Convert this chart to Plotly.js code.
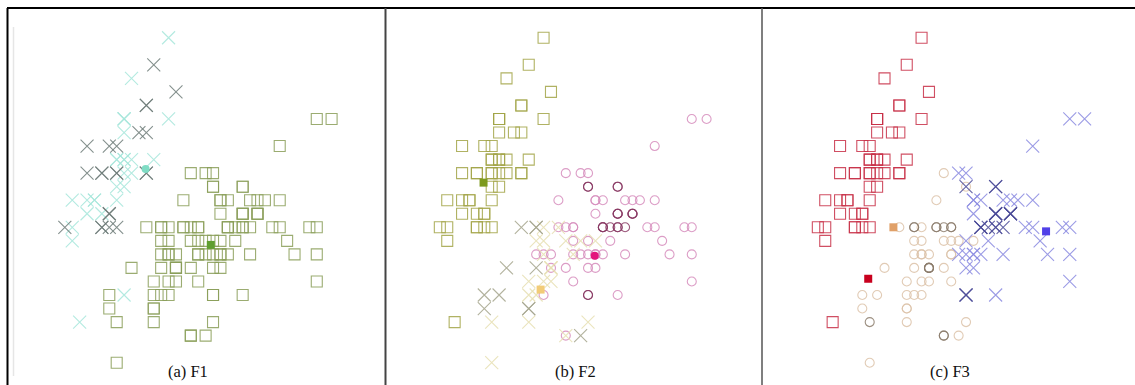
<!DOCTYPE html>
<html><head><meta charset="utf-8">
<script src="https://cdn.plot.ly/plotly-3.0.1.min.js"></script>
<style>html,body{margin:0;padding:0;background:#fff}#chart{width:1135px;height:385px}</style>
</head><body><div id="chart"></div>
<script>
const sepalLength = [
5.1,4.9,4.7,4.6,5.0,5.4,4.6,5.0,4.4,4.9, 5.4,4.8,4.8,4.3,5.8,5.7,5.4,5.1,5.7,5.1,
5.4,5.1,4.6,5.1,4.8,5.0,5.0,5.2,5.2,4.7, 4.8,5.4,5.2,5.5,4.9,5.0,5.5,4.9,4.4,5.1,
5.0,4.5,4.4,5.0,5.1,4.8,5.1,4.6,5.3,5.0, 7.0,6.4,6.9,5.5,6.5,5.7,6.3,4.9,6.6,5.2,
5.0,5.9,6.0,6.1,5.6,6.7,5.6,5.8,6.2,5.6, 5.9,6.1,6.3,6.1,6.4,6.6,6.8,6.7,6.0,5.7,
5.5,5.5,5.8,6.0,5.4,6.0,6.7,6.3,5.6,5.5, 5.5,6.1,5.8,5.0,5.6,5.7,5.7,6.2,5.1,5.7,
6.3,5.8,7.1,6.3,6.5,7.6,4.9,7.3,6.7,7.2, 6.5,6.4,6.8,5.7,5.8,6.4,6.5,7.7,7.7,6.0,
6.9,5.6,7.7,6.3,6.7,7.2,6.2,6.1,6.4,7.2, 7.4,7.9,6.4,6.3,6.1,7.7,6.3,6.4,6.0,6.9,
6.7,6.9,5.8,6.8,6.7,6.7,6.3,6.5,6.2,5.9];
const sepalWidth = [
3.5,3.0,3.2,3.1,3.6,3.9,3.4,3.4,2.9,3.1, 3.7,3.4,3.0,3.0,4.0,4.4,3.9,3.5,3.8,3.8,
3.4,3.7,3.6,3.3,3.4,3.0,3.4,3.5,3.4,3.2, 3.1,3.4,4.1,4.2,3.1,3.2,3.5,3.6,3.0,3.4,
3.5,2.3,3.2,3.5,3.8,3.0,3.8,3.2,3.7,3.3, 3.2,3.2,3.1,2.3,2.8,2.8,3.3,2.4,2.9,2.7,
2.0,3.0,2.2,2.9,2.9,3.1,3.0,2.7,2.2,2.5, 3.2,2.8,2.5,2.8,2.9,3.0,2.8,3.0,2.9,2.6,
2.4,2.4,2.7,2.7,3.0,3.4,3.1,2.3,3.0,2.5, 2.6,3.0,2.6,2.3,2.7,3.0,2.9,2.9,2.5,2.8,
3.3,2.7,3.0,2.9,3.0,3.0,2.5,2.9,2.5,3.6, 3.2,2.7,3.0,2.5,2.8,3.2,3.0,3.8,2.6,2.2,
3.2,2.8,2.8,2.7,3.3,3.2,2.8,3.0,2.8,3.0, 2.8,3.8,2.8,2.8,2.6,3.0,3.4,3.1,3.0,3.1,
3.1,3.1,2.7,3.2,3.3,3.0,2.5,3.0,3.4,3.0];

// cluster of each point in each panel: s = square, o = circle, x = cross
const clusterF1 = ("xxxxxxxxxx"+"xxxxxxxxxx"+"xxxxxxxxxx"+"xxxxxxxxxx"+"xxxxxxxxxx"+
  "ssssssssss"+"ssssssssss"+"ssssssssss"+"ssssssssss"+"ssssssssxs"+
  "ssssssssss"+"ssssssssss"+"ssssssssss"+"ssssssssss"+"ssssssssss").split("");
const clusterF2 = ("ssssssssss"+"ssssssssss"+"ssssssssss"+"ssssssssss"+"ssssssssss"+
  "oooxoxoxox"+"xxooxoxxxx"+"oxooxoooxx"+"xxooxooxxx"+"xoxxxxxxxo"+
  "oxooooxooo"+"ooooooooox"+"oooooooooo"+"oooooooooo"+"ooxooooooo").split("");
const clusterF3 = ("ssssssssss"+"ssssssssss"+"ssssssssss"+"ssssssssss"+"ssssssssss"+
  "xxxoxoooxo"+"oooooxoooo"+"ooxooxxxoo"+"ooooooxooo"+"oooooooooo"+
  "xoxxxxoxxx"+"xxxooxxxxo"+"xoxxxxxoxx"+"xxxxoxxxox"+"xxoxxxxxxo").split("");

// points drawn in the darker shade of their cluster (1-based row numbers)
const darkF1 = [2,5,6,7,8,10,11,12,13,14,15,17,21,23,25,26,27,32,34,35,38,46,49];
const darkF2 = [53,57,66,87,101,125,140,141,142,145,73,147,76,78,146,105,117,148,113,
                85,67,89,60,95,107,99,58,81,82,69];
const darkF3 = [67,89,62,150,139,92,128,68,83,102,143,63,120,94,
                105,117,148,76,78,146,113,66,87,141,53,140,142,73,147,101,125,145];

// cluster centres (filled markers)
const centerF1X = [5.39, 6.27], centerF1Y = [3.43, 2.87];
const centerF2X = [4.89, 6.39, 5.66], centerF2Y = [3.33, 2.79, 2.54];
const centerF3X = [5.32, 4.98, 7.38], centerF3Y = [3.00, 2.62, 2.97];
const panelLabels = ["(a) F1", "(b) F2", "(c) F3"];

const panels = [
  {labels: clusterF1, dark: darkF1, cx: centerF1X, cy: centerF1Y,
   colors: {x: ["#a6e6da", "#6f7d79"], s: ["#8a9e58", "#6f8040"]},
   centerColors: ["#7fdcc4", "#5f9e30"], centerSymbols: ["circle", "square"]},
  {labels: clusterF2, dark: darkF2, cx: centerF2X, cy: centerF2Y,
   colors: {s: ["#a2a548", "#8a8c30"], o: ["#d68cbc", "#8a3a64"], x: ["#e6dfb2", "#a4a48c"]},
   centerColors: ["#7d9a1e", "#e3157c", "#f2cc78"], centerSymbols: ["square", "circle", "square"]},
  {labels: clusterF3, dark: darkF3, cx: centerF3X, cy: centerF3Y,
   colors: {s: ["#c83048", "#a01830"], o: ["#dcc2a8", "#8c7c6c"], x: ["#8a8ae0", "#4a4a98"]},
   centerColors: ["#e0a068", "#c8001e", "#5040e8"], centerSymbols: ["square", "square", "square"]}
];
const symbolOf = {s: "square-open", o: "circle-open", x: "x-thin-open"};
const sizeOf = {s: 11, o: 9, x: 13};

const traces = [];
panels.forEach((p, k) => {
  const xa = k === 0 ? "x" : "x" + (k + 1);
  const ya = k === 0 ? "y" : "y" + (k + 1);
  ["s", "o", "x"].forEach(code => {
    [0, 1].forEach(shade => {
      const idx = [];
      p.labels.forEach((c, i) => {
        const isDark = p.dark.indexOf(i + 1) >= 0 ? 1 : 0;
        if (c === code && isDark === shade) idx.push(i);
      });
      if (!idx.length) return;
      const col = p.colors[code][shade];
      traces.push({
        type: "scatter", mode: "markers", xaxis: xa, yaxis: ya, cliponaxis: false,
        x: idx.map(i => sepalLength[i]), y: idx.map(i => sepalWidth[i]),
        marker: {symbol: symbolOf[code], size: sizeOf[code], color: col, opacity: 0.85,
                 line: {color: col, width: 1.1}},
        hoverinfo: "skip", showlegend: false
      });
    });
  });
  traces.push({
    type: "scatter", mode: "markers", xaxis: xa, yaxis: ya, cliponaxis: false,
    x: p.cx, y: p.cy,
    marker: {symbol: p.centerSymbols, size: 8, color: p.centerColors, line: {width: 0}},
    hoverinfo: "skip", showlegend: false
  });
});

const W = 1135, H = 385;
const xr = [3.6005, 8.5533], yr = [1.8353, 4.6787];
const axisBase = {range: xr, showgrid: false, zeroline: false, showticklabels: false, showline: false, ticks: "", fixedrange: true};
const yBase = {range: yr, domain: [0, 1], showgrid: false, zeroline: false, showticklabels: false, showline: false, ticks: "", fixedrange: true};
const px = v => v / W, py = v => 1 - v / H;

const layout = {
  width: W, height: H, margin: {l: 0, r: 0, t: 0, b: 0, pad: 0},
  paper_bgcolor: "#ffffff", plot_bgcolor: "rgba(0,0,0,0)", showlegend: false,
  xaxis: Object.assign({}, axisBase, {domain: [px(13), px(380)], anchor: "y"}),
  xaxis2: Object.assign({}, axisBase, {domain: [px(388), px(755)], anchor: "y2"}),
  xaxis3: Object.assign({}, axisBase, {domain: [px(766), px(1133)], anchor: "y3"}),
  yaxis: Object.assign({}, yBase, {anchor: "x"}),
  yaxis2: Object.assign({}, yBase, {anchor: "x2"}),
  yaxis3: Object.assign({}, yBase, {anchor: "x3"}),
  shapes: [
    {type: "line", xref: "paper", yref: "paper", x0: px(7), x1: 1, y0: py(8), y1: py(8), line: {color: "#000", width: 2}},
    {type: "line", xref: "paper", yref: "paper", x0: px(7.5), x1: px(7.5), y0: 0, y1: py(8), line: {color: "#000", width: 2}},
    {type: "line", xref: "paper", yref: "paper", x0: px(385.5), x1: px(385.5), y0: 0, y1: py(8), line: {color: "#444", width: 2}},
    {type: "line", xref: "paper", yref: "paper", x0: px(762), x1: px(762), y0: 0, y1: py(8), line: {color: "#555", width: 1.5}},
    {type: "line", xref: "paper", yref: "paper", x0: px(13.5), x1: px(13.5), y0: py(376), y1: py(27), line: {color: "#e6e6e6", width: 1.5}}
  ],
  annotations: panelLabels.map((t, k) => ({
    text: t, xref: "paper", yref: "paper", x: px([188, 575, 950][k]), y: py(371),
    xanchor: "center", yanchor: "middle", showarrow: false,
    font: {family: "Liberation Serif, Times New Roman, serif", size: 16.5, color: "#111"}
  }))
};

Plotly.newPlot("chart", traces, layout, {displayModeBar: false, staticPlot: true});
</script></body></html>
